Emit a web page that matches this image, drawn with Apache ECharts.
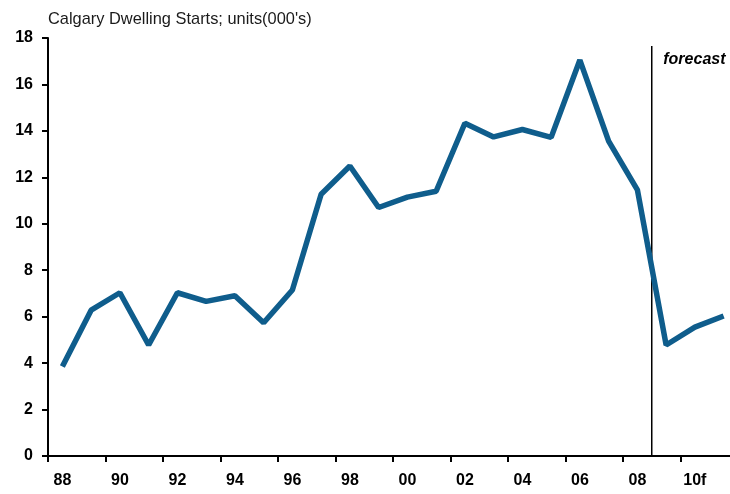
<!DOCTYPE html>
<html>
<head>
<meta charset="utf-8">
<script src="https://cdn.jsdelivr.net/npm/echarts@6/dist/echarts.min.js"></script>
<style>html,body{margin:0;padding:0;background:#fff;overflow:hidden;width:730px;height:494px;}#c{width:740px;height:494px;}</style>
</head>
<body>
<div id="c"></div>
<script>
const categories = ['88','89','90','91','92','93','94','95','96','97','98','99','00','01','02','03','04','05','06','07','08','09','10f','11f'];
const starts = [3.85, 6.28, 7.03, 4.78, 7.03, 6.66, 6.9, 5.74, 7.15, 11.27, 12.49, 10.7, 11.15, 11.4, 14.33, 13.74, 14.06, 13.72, 17.05, 13.56, 11.46, 4.78, 5.55, 6.03];
const yTicks = {min: 0, max: 18, interval: 2};
const forecastAt = 20.5;   // between 08 and 09
const forecastTop = 17.66;
const forecastLabel = 'forecast';
const titleText = "Calgary Dwelling Starts; units(000's)";

const chart = echarts.init(document.getElementById('c'), null, {renderer: 'canvas'});
const font = 'Arial, "Liberation Sans", sans-serif';
chart.setOption({
  animation: false,
  title: {
    text: titleText, left: 43, top: 6,
    textStyle: {fontFamily: font, fontSize: 16.4, fontWeight: 'normal', color: '#1a1a1a'}
  },
  grid: {left: 48, top: 38, width: 690, height: 418, containLabel: false},
  xAxis: [{
    type: 'category', data: categories, boundaryGap: true,
    axisLine: {lineStyle: {color: '#000', width: 2}},
    axisTick: {show: true, interval: 1, length: 6, lineStyle: {color: '#000', width: 2}},
    axisLabel: {interval: 1, margin: 17, color: '#000', fontFamily: font, fontSize: 16, fontWeight: 'bold'},
    splitLine: {show: false}
  }, {
    type: 'value', min: -0.5, max: categories.length - 0.5, show: false
  }],
  yAxis: {
    type: 'value', min: yTicks.min, max: yTicks.max, interval: yTicks.interval,
    axisLine: {show: true, onZero: false, lineStyle: {color: '#000', width: 2}},
    axisTick: {show: true, length: 6, lineStyle: {color: '#000', width: 2}},
    axisLabel: {margin: 15, color: '#000', fontFamily: font, fontSize: 16, fontWeight: 'bold'},
    splitLine: {show: false}
  },
  series: [{
    type: 'line', data: starts, xAxisIndex: 0,
    symbol: 'none', lineStyle: {color: '#0f5d8c', width: 5.5}, z: 3
  }, {
    type: 'line', xAxisIndex: 1, symbol: 'none', silent: true,
    lineStyle: {color: '#000', width: 1.5}, z: 2,
    data: [[forecastAt, forecastTop], [forecastAt, 0]]
  }, {
    type: 'scatter', xAxisIndex: 1, symbolSize: 1, silent: true,
    itemStyle: {color: 'rgba(0,0,0,0)', opacity: 1}, z: 4,
    data: [[forecastAt, forecastTop]],
    label: {show: true, formatter: forecastLabel, position: 'right', distance: 0, offset: [11, 14],
      fontFamily: font, fontSize: 16, fontWeight: 'bold', fontStyle: 'italic', color: '#000'}
  }]
});
</script>
</body>
</html>
